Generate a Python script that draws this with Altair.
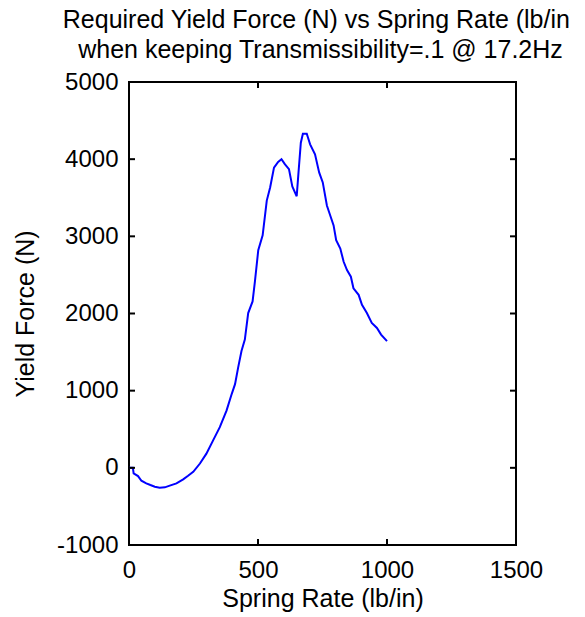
import altair as alt
import pandas as pd

spring_rate = [0, 15, 18, 35, 48, 67, 83, 100, 119, 139, 158, 184, 210, 229, 249,
               275, 300, 326, 352, 378, 398, 411, 423, 436, 449, 462, 479, 488, 501,
               518, 534, 547, 562, 578, 591, 604, 620, 633, 650, 657, 666, 674, 689,
               702, 721, 737, 751, 767, 780, 793, 803, 819, 832, 845, 860, 870, 890,
               903, 922, 941, 961, 977, 1000]
yield_force = [0, 0, -73, -107, -167, -201, -223, -244, -257, -253, -231, -201, -150,
               -103, -51, 56, 184, 356, 527, 741, 956, 1084, 1299, 1513, 1663, 2006,
               2156, 2413, 2820, 3013, 3463, 3634, 3891, 3965, 3999, 3935, 3871, 3648,
               3519, 3828, 4213, 4329, 4329, 4192, 4063, 3828, 3699, 3399, 3270, 3142,
               2949, 2842, 2670, 2563, 2477, 2327, 2242, 2113, 2006, 1877, 1813, 1727,
               1642]
x_ticks = [0, 500, 1000, 1500]
y_ticks = [-1000, 0, 1000, 2000, 3000, 4000, 5000]

title_lines = ["Required Yield Force (N) vs Spring Rate (lb/in)",
               "when keeping Transmissibility=.1 @ 17.2Hz"]

W, H = 387, 463
FONT = "Liberation Sans"
TICK = 6

df = pd.DataFrame({"rate": spring_rate, "force": yield_force})
xt = pd.DataFrame({"rate": x_ticks})
yt = pd.DataFrame({"force": y_ticks})

xscale = alt.Scale(domain=[0, 1500], nice=False, zero=False)
yscale = alt.Scale(domain=[-1000, 5000], nice=False, zero=False)

line = alt.Chart(df).mark_line(color="#0000FF", strokeWidth=2).encode(
    x=alt.X("rate:Q", scale=xscale,
            axis=alt.Axis(values=x_ticks, title="Spring Rate (lb/in)",
                          labelExpr="'' + datum.value", labelFlush=False,
                          labelOverlap=False, ticks=False, domain=False, grid=False,
                          labelFontSize=24, labelFont=FONT, labelColor="black",
                          labelPadding=13, titleFont=FONT, titleFontSize=25,
                          titleFontWeight="normal", titleColor="black",
                          titlePadding=4)),
    y=alt.Y("force:Q", scale=yscale,
            axis=alt.Axis(values=y_ticks, title="Yield Force (N)",
                          labelExpr="'' + datum.value", labelOverlap=False,
                          ticks=False, domain=False, grid=False,
                          labelFontSize=24, labelFont=FONT, labelColor="black",
                          labelPadding=11, titleFont=FONT, titleFontSize=25,
                          titleFontWeight="normal", titleColor="black",
                          titlePadding=18)),
)

xb = alt.Chart(xt).mark_rule(color="black", strokeWidth=2).encode(
    x=alt.X("rate:Q", scale=xscale), y=alt.value(H), y2=alt.value(H - TICK))
xtp = alt.Chart(xt).mark_rule(color="black", strokeWidth=2).encode(
    x=alt.X("rate:Q", scale=xscale), y=alt.value(0), y2=alt.value(TICK))
yl = alt.Chart(yt).mark_rule(color="black", strokeWidth=2).encode(
    y=alt.Y("force:Q", scale=yscale), x=alt.value(0), x2=alt.value(TICK))
yr = alt.Chart(yt).mark_rule(color="black", strokeWidth=2).encode(
    y=alt.Y("force:Q", scale=yscale), x=alt.value(W), x2=alt.value(W - TICK))

chart = alt.layer(line, xb, xtp, yl, yr).properties(
    width=W, height=H,
    title=alt.TitleParams(text=title_lines, font=FONT, fontSize=25,
                          fontWeight="normal", color="black", anchor="middle",
                          lineHeight=30, offset=7, dx=-2),
    autosize=alt.AutoSizeParams(type="none"),
    padding={"left": 129, "top": 82, "right": 54, "bottom": 72},
).configure(background="white").configure_view(stroke="black", strokeWidth=2)

chart.save("out.html", embed_options={"renderer": "svg", "actions": False})
